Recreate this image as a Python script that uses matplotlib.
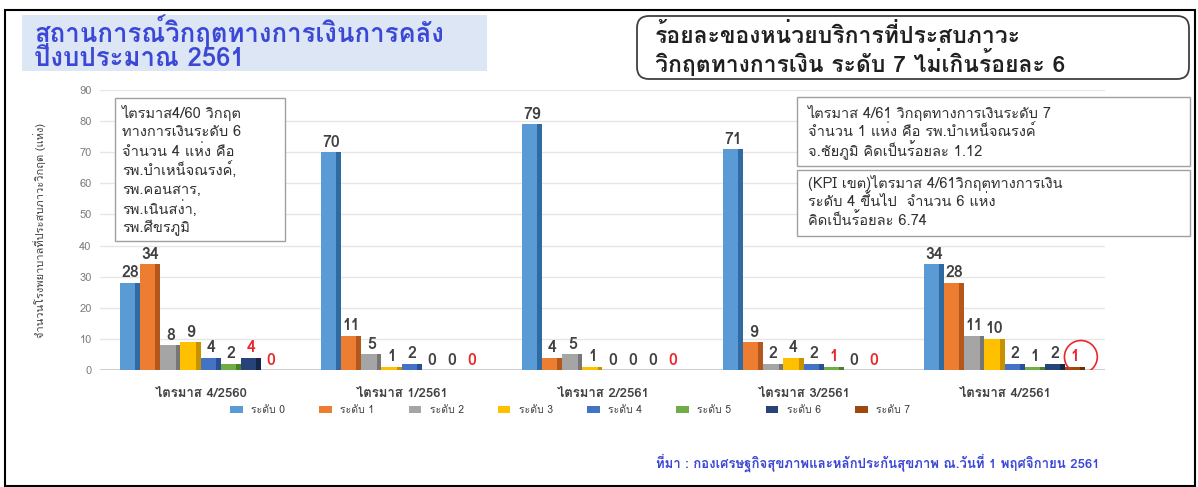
import matplotlib
matplotlib.use('Agg')
import matplotlib.pyplot as plt
from matplotlib.patches import Rectangle, FancyBboxPatch
import numpy as np

plt.rcParams['font.family'] = ['Loma', 'DejaVu Sans']

quarters = ['ไตรมาส 4/2560', 'ไตรมาส 1/2561', 'ไตรมาส 2/2561', 'ไตรมาส 3/2561', 'ไตรมาส 4/2561']
levels = ['ระดับ 0', 'ระดับ 1', 'ระดับ 2', 'ระดับ 3', 'ระดับ 4', 'ระดับ 5', 'ระดับ 6', 'ระดับ 7']
# rows = quarters, columns = level 0..7
counts = [
    [28, 34, 8, 9, 4, 2, 4, 0],
    [70, 11, 5, 1, 2, 0, 0, 0],
    [79, 4, 5, 1, 0, 0, 0, 0],
    [71, 9, 2, 4, 2, 1, 0, 0],
    [34, 28, 11, 10, 2, 1, 2, 1],
]
# (quarter, level) labels printed in red
red_labels = [(0, 6), (0, 7), (1, 7), (2, 7), (3, 5), (3, 7), (4, 7)]

note_left = ['ไตรมาส4/60 วิกฤต', 'ทางการเงินระดับ 6', 'จำนวน 4 แห่ง คือ',
             'รพ.บำเหน็จณรงค์,', 'รพ.คอนสาร,', 'รพ.เนินสง่า,', 'รพ.ศีขรภูมิ']
note_top = ['ไตรมาส 4/61 วิกฤตทางการเงินระดับ 7', 'จำนวน 1 แห่ง คือ รพ.บำเหน็จณรงค์',
            'จ.ชัยภูมิ คิดเป็นร้อยละ 1.12']
note_kpi = ['(KPI เขต)ไตรมาส 4/61วิกฤตทางการเงิน', 'ระดับ 4 ขึ้นไป  จำนวน 6 แห่ง',
            'คิดเป็นร้อยละ 6.74']

face = ['#5b9bd5', '#ed7d31', '#a5a5a5', '#ffc000', '#4472c4', '#70ad47', '#264478', '#9e480e']
side = ['#2f6aa3', '#b3571c', '#767676', '#c69200', '#2a4f93', '#4b7f2c', '#14274a', '#6b2f08']

W, H = 1198, 487
fig = plt.figure(figsize=(W / 100, H / 100), dpi=100)

def fx(px):
    return px / W

def fy(py):
    return 1 - py / H

def frame(x0, y0, x1, y1, **kw):
    fig.patches.append(Rectangle((fx(x0), fy(y1)), fx(x1 - x0), fy(y0) - fy(y1),
                                 transform=fig.transFigure, **kw))

def lines(x0, y0, rows, step, **kw):
    for k, t in enumerate(rows):
        fig.text(fx(x0), fy(y0 + k * step), t, va='center', ha='left', **kw)

# outer frame
frame(5, 10, 1195, 486, fill=False, edgecolor='black', lw=1.5)

# title block
frame(22, 15, 487, 71, facecolor='#dce6f4', edgecolor='none')
lines(34, 31, ['สถานการณ์วิกฤตทางการเงินการคลัง', 'ปีงบประมาณ 2561'], 28,
      color='#3b47d6', fontsize=18.5, fontweight='bold')

# target box (pixel coordinates)
fig.patches.append(FancyBboxPatch((637, H - 79), 552, 63,
                                  boxstyle='round,pad=0,rounding_size=12',
                                  transform=None, facecolor='white',
                                  edgecolor='#404040', lw=1.3))
lines(655, 35, ['ร้อยละของหน่วยบริการที่ประสบภาวะ', 'วิกฤตทางการเงิน ระดับ 7 ไม่เกินร้อยละ 6'], 27,
      fontsize=16.5, fontweight='bold', color='#202020')

ax = fig.add_axes([fx(100), fy(370), fx(1005), fy(90) - fy(370)])

data = np.array(counts)
n_q, n_l = data.shape
x = np.arange(n_q)
w = 0.1
for j in range(n_l):
    pos = x + (j - (n_l - 1) / 2) * w
    vals = data[:, j]
    ax.bar(pos - w * 0.12, vals, width=w * 0.76, color=face[j], label=levels[j], zorder=3)
    ax.bar(pos + w * 0.38, vals, width=w * 0.24, color=side[j], zorder=3)
    for i in range(n_q):
        c = '#e8282b' if (i, j) in red_labels else '#404040'
        ax.text(pos[i], vals[i] + 0.8, str(vals[i]), ha='center', va='bottom',
                fontsize=11.5, fontweight='bold', color=c, zorder=4)

# circle around the level-7 value of the last quarter
ax.scatter([x[4] + 3.5 * w + 0.03], [data[4, 7] + 3.2], s=560, facecolors='none',
           edgecolors='#e8282b', lw=1.2, zorder=5)

ax.set_xlim(-0.5, n_q - 0.5)
ax.set_ylim(0, 90)
ax.set_yticks(range(0, 91, 10))
ax.tick_params(axis='y', length=0, labelsize=8, labelcolor='#7f7f7f', pad=6)
ax.set_xticks(x)
ax.set_xticklabels(quarters, fontsize=9.5, color='#404040', fontweight='bold')
ax.tick_params(axis='x', length=0, pad=13)
ax.grid(axis='y', color='#e6e6e6', lw=1, zorder=0)
for s in ax.spines.values():
    s.set_visible(False)
ax.axhline(0, color='#d0d0d0', lw=1.5, zorder=2)
ax.set_ylabel('จำนวนโรงพยาบาลที่ประสบภาวะวิกฤต (แห่ง)', fontsize=8, color='#404040', labelpad=24)

# note boxes
frame(115, 98, 285, 241, facecolor='white', edgecolor='#a0a0a0', lw=1, zorder=5)
lines(122, 113, note_left, 19.2, fontsize=10.5, color='#303030', zorder=6)
frame(797, 97, 1190, 166, facecolor='white', edgecolor='#a0a0a0', lw=1, zorder=5)
lines(808, 113, note_top, 18.5, fontsize=10.5, color='#303030', zorder=6)
frame(797, 170, 1190, 236, facecolor='white', edgecolor='#a0a0a0', lw=1, zorder=5)
lines(808, 183, note_kpi, 18.5, fontsize=10.5, color='#303030', zorder=6)

fig.legend(loc='center', bbox_to_anchor=(fx(570), fy(410)), ncol=8, frameon=False,
           fontsize=7.5, handlelength=1.2, handleheight=0.6, columnspacing=3.3,
           labelcolor='#404040')

fig.text(fx(1100), fy(463), 'ที่มา : กองเศรษฐกิจสุขภาพและหลักประกันสุขภาพ ณ.วันที่ 1 พฤศจิกายน 2561',
         fontsize=9.5, fontweight='bold', color='#3b47d6', ha='right', va='center')

fig.savefig('out.png', dpi=100)
